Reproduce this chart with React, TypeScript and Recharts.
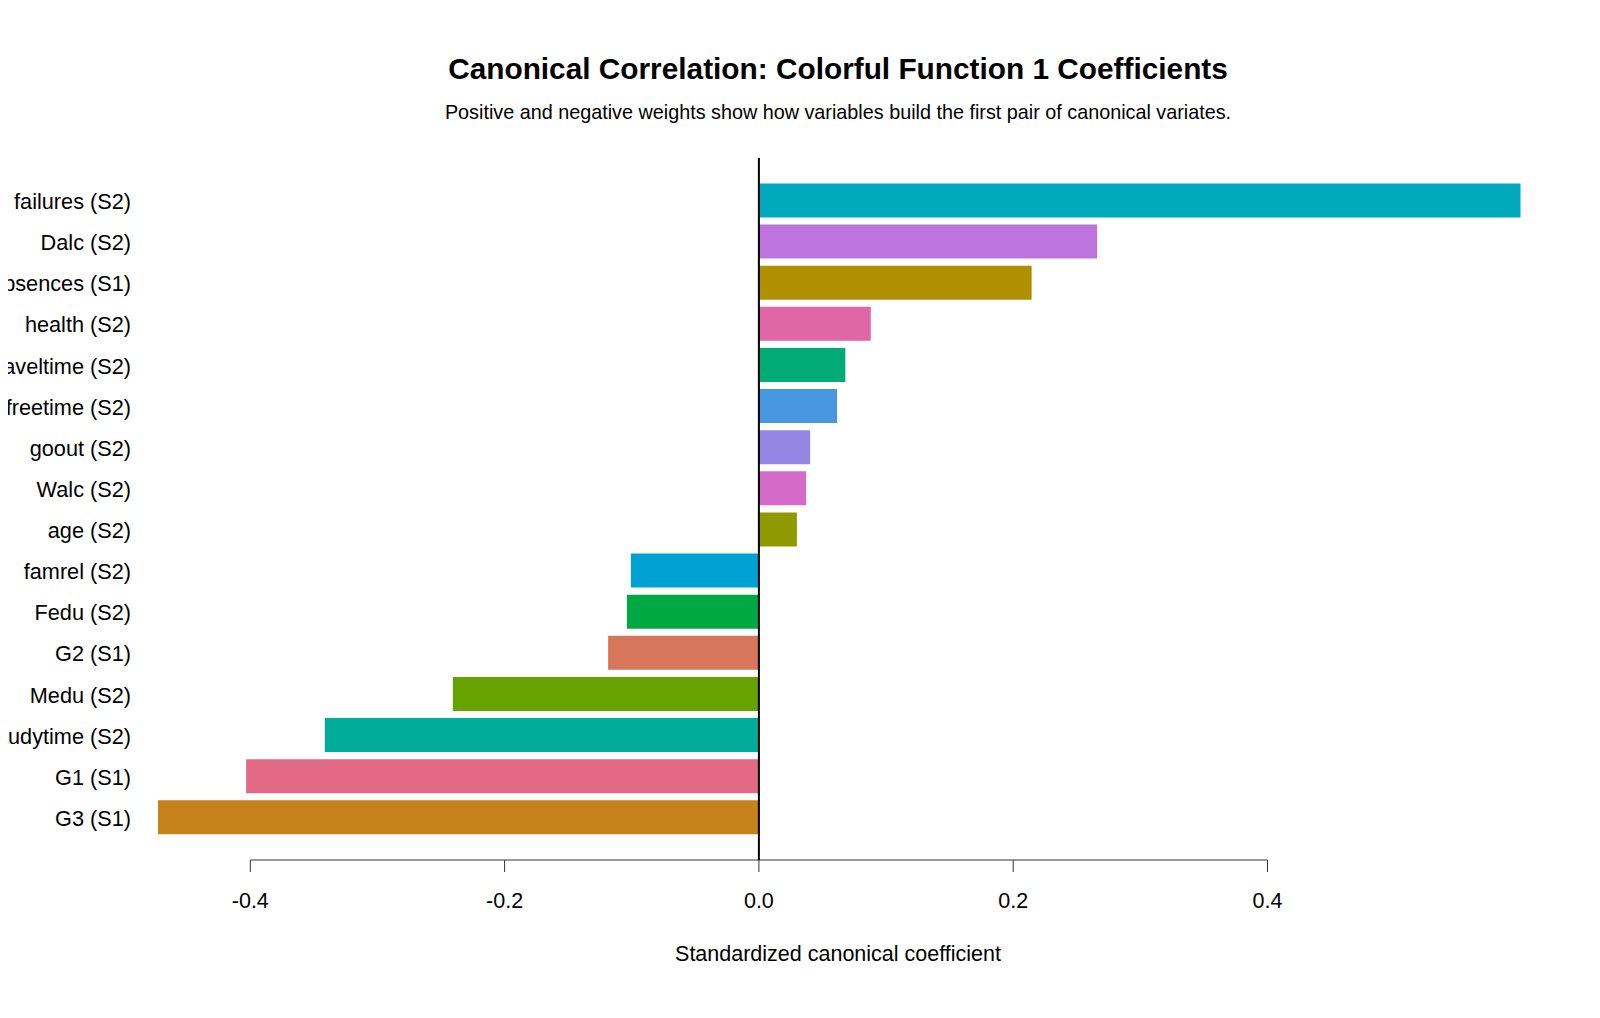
import React from 'react';
import { BarChart, Bar, Cell, XAxis, YAxis, ReferenceLine, ReferenceArea } from 'recharts';

// variables, top to bottom as drawn
const variableLabels = [
  'failures (S2)', 'Dalc (S2)', 'absences (S1)', 'health (S2)', 'traveltime (S2)',
  'freetime (S2)', 'goout (S2)', 'Walc (S2)', 'age (S2)', 'famrel (S2)',
  'Fedu (S2)', 'G2 (S1)', 'Medu (S2)', 'studytime (S2)', 'G1 (S1)', 'G3 (S1)',
];

const coefficients = [
  0.599, 0.266, 0.2145, 0.088, 0.068,
  0.0615, 0.0403, 0.0371, 0.0299, -0.1007,
  -0.1038, -0.1186, -0.2407, -0.3414, -0.4033, -0.4726,
];

const barColors = [
  '#00A9BC', '#BE74DF', '#B08F00', '#E066A8', '#00AB74',
  '#4696E0', '#9586E4', '#D66AC8', '#8F9A00', '#00A2D3',
  '#00A844', '#D8765B', '#66A200', '#00AD9A', '#E26A85', '#C7821B',
];

const xTicks = [-0.4, -0.2, 0, 0.2, 0.4];
const xTickLabels = ['-0.4', '-0.2', '0.0', '0.2', '0.4'];

const chartTitle = 'Canonical Correlation: Colorful Function 1 Coefficients';
const chartSubtitle = 'Positive and negative weights show how variables build the first pair of canonical variates.';
const xAxisTitle = 'Standardized canonical coefficient';

const data = variableLabels.map((name, i) => ({ name, value: coefficients[i] }));

// R style 4% expansion of the data range
const minV = Math.min(...coefficients);
const maxV = Math.max(...coefficients);
const pad = (maxV - minV) * 0.04;

const FONT = '"Liberation Sans", Arial, Helvetica, sans-serif';
const AXIS_FONT = 21.5;
const LABEL_FONT = 21.7;
const CAT_PAD = 22;

const YTick = ({ x, y, payload }: any) => (
  <text x={x + 27.5} y={y + 1} textAnchor="end" dominantBaseline="central"
    fontFamily={FONT} fontSize={LABEL_FONT} fill="#000">
    {payload.value}
  </text>
);

const XTick = ({ x, y, payload, index }: any) => (
  <text x={x} y={y + 29} textAnchor="middle" dominantBaseline="central"
    fontFamily={FONT} fontSize={AXIS_FONT} fill="#000">
    {xTickLabels[index] ?? payload.value}
  </text>
);

// R draws the x axis line only between the first and last tick, at the bottom of the plot region
const AxisSegment = ({ x, y, width, height }: any) => (
  <line x1={x} x2={x + width} y1={y + height + CAT_PAD} y2={y + height + CAT_PAD} stroke="#333" strokeWidth={1} />
);

const App: React.FC = () => {
  return (
    // pulled left over the body margin so long labels run off the page edge as in the original
    <div style={{ position: 'relative', marginLeft: -8, width: 1592, height: 1002, fontFamily: FONT }}>
      <div style={{
        position: 'absolute', left: 838, top: 61, transform: 'translate(-50%, -50%)',
        fontSize: 29.8, lineHeight: '29.8px', fontWeight: 'bold', whiteSpace: 'nowrap', color: '#000',
      }}>{chartTitle}</div>
      <div style={{
        position: 'absolute', left: 838, top: 105.2, transform: 'translate(-50%, -50%)',
        fontSize: 19.8, lineHeight: '19.8px', whiteSpace: 'nowrap', color: '#000',
      }}>{chartSubtitle}</div>
      <div style={{
        position: 'absolute', left: 838, top: 947, transform: 'translate(-50%, -50%)',
        fontSize: AXIS_FONT, lineHeight: `${AXIS_FONT}px`, whiteSpace: 'nowrap', color: '#000',
      }}>{xAxisTitle}</div>

      <BarChart
        width={1592}
        height={1002}
        data={data}
        layout="vertical"
        margin={{ top: 150, right: 17, bottom: 90, left: 0 }}
        barCategoryGap="8.33%"
        style={{ overflow: 'visible' }}
      >
        <XAxis
          type="number"
          domain={[minV - pad, maxV + pad]}
          ticks={xTicks}
          allowDataOverflow
          axisLine={false}
          tickLine={{ stroke: '#333', strokeWidth: 1 }}
          tickSize={12}
          tickMargin={0}
          height={60}
          tick={<XTick />}
          interval={0}
        />
        <YAxis
          type="category"
          dataKey="name"
          width={103.5}
          axisLine={false}
          tickLine={false}
          tickSize={0}
          tickMargin={0}
          padding={{ top: CAT_PAD, bottom: CAT_PAD }}
          tick={<YTick />}
          interval={0}
        />
        <Bar dataKey="value" isAnimationActive={false}>
          {data.map((d, i) => (
            <Cell key={d.name} fill={barColors[i]} />
          ))}
        </Bar>
        <ReferenceLine x={0} stroke="#000" strokeWidth={2} />
        <ReferenceArea
          x1={xTicks[0]}
          x2={xTicks[xTicks.length - 1]}
          ifOverflow="visible"
          shape={<AxisSegment />}
        />
      </BarChart>
    </div>
  );
};

export default App;
